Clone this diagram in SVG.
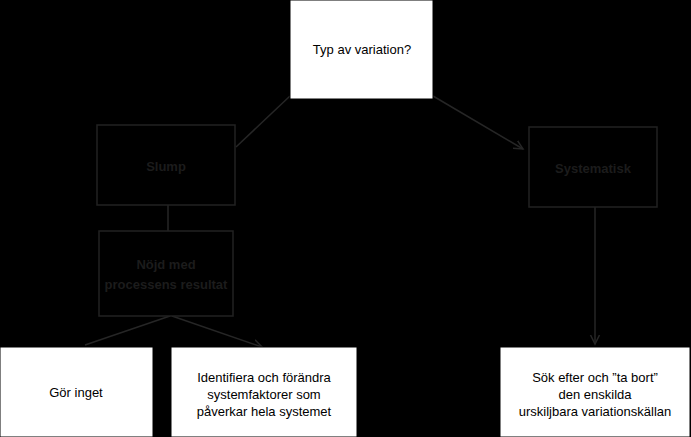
<svg xmlns="http://www.w3.org/2000/svg" width="691" height="437" viewBox="0 0 691 437">
<style>
.w{fill:#fff;stroke:#000;stroke-width:1}
.d{fill:#000;stroke:#222;stroke-width:1.5}
.t{font-family:"Liberation Sans",Arial,sans-serif;font-size:13px;text-anchor:middle;fill:#000}
.dt{font-family:"Liberation Sans",Arial,sans-serif;font-size:13px;text-anchor:middle;fill:#1c1c1c;font-weight:bold}
.c{stroke:#262626;stroke-width:1.5;fill:none}
</style>
<defs><marker id="a" markerWidth="8" markerHeight="8" refX="6" refY="4" orient="auto"><path d="M0,1 L6,4 L0,7" fill="none" stroke="#262626"/></marker></defs>
<rect width="691" height="437" fill="#000"/>
<g id="connectors">
<line class="c" x1="290" y1="96" x2="236" y2="147"/>
<line class="c" x1="433" y1="96" x2="523" y2="149" marker-end="url(#a)"/>
<line class="c" x1="595" y1="207" x2="595" y2="344" marker-end="url(#a)"/>
<line class="c" x1="168" y1="205" x2="168" y2="231"/>
<line class="c" x1="170" y1="316" x2="85" y2="345"/>
<line class="c" x1="172" y1="316" x2="262" y2="347" marker-end="url(#a)"/>
</g>
<g id="top"><rect class="w" x="290" y="0" width="143" height="99"/><text class="t" x="362" y="54">Typ av variation?</text></g>
<g id="slump"><rect class="d" x="97" y="125" width="138" height="80"/><text class="dt" x="166" y="171">Slump</text></g>
<g id="nojd"><rect class="d" x="99" y="231" width="134" height="85"/><text class="dt" x="166" y="269">Nöjd med</text><text class="dt" x="166" y="289">processens resultat</text></g>
<g id="syst"><rect class="d" x="529" y="127" width="128" height="80"/><text class="dt" x="593" y="173">Systematisk</text></g>
<g id="gor"><rect class="w" x="0" y="347" width="153" height="90"/><text class="t" x="76" y="397">Gör inget</text></g>
<g id="ident"><rect class="w" x="171" y="347" width="186" height="90"/><text class="t" x="264" y="382">Identifiera och förändra</text><text class="t" x="264" y="399">systemfaktorer som</text><text class="t" x="264" y="416">påverkar hela systemet</text></g>
<g id="sok"><rect class="w" x="500" y="347" width="190" height="90"/><text class="t" x="595" y="382">Sök efter och ”ta bort”</text><text class="t" x="595" y="399">den enskilda</text><text class="t" x="595" y="416">urskiljbara variationskällan</text></g>
</svg>
